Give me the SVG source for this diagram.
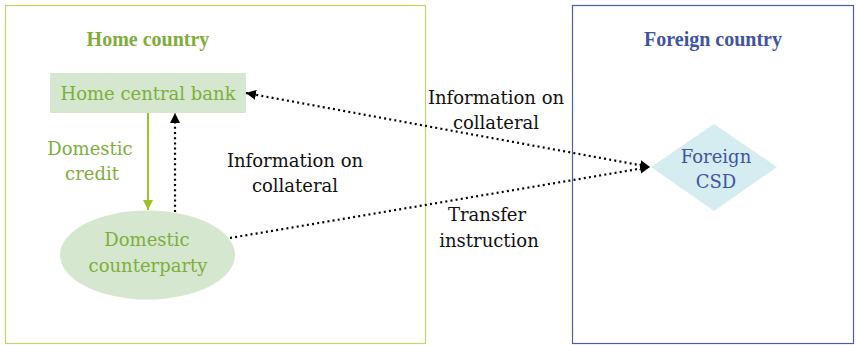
<svg xmlns="http://www.w3.org/2000/svg" width="856" height="345" viewBox="0 0 856 345">
<defs>
<style>
text{font-family:'DejaVu Serif',serif;font-size:18px;text-anchor:middle}
.g{fill:#7fad3c}
.b{fill:#3f55a2}
.k{fill:#111}
.title{font-family:'Liberation Serif',serif;font-weight:bold;font-size:20px}
.dot{stroke:#000;stroke-width:2.2;stroke-dasharray:2 3.2;fill:none}
</style>
<marker id="ah" viewBox="0 0 10 10" refX="10" refY="5" markerWidth="10" markerHeight="10" markerUnits="userSpaceOnUse" orient="auto-start-reverse"><path d="M0,0 L10,5 L0,10 z" fill="#000"/></marker>
<marker id="ag" viewBox="0 0 10 10" refX="10" refY="5" markerWidth="10" markerHeight="10" markerUnits="userSpaceOnUse" orient="auto"><path d="M0,0 L10,5 L0,10 z" fill="#9cc321"/></marker>
</defs>
<g id="home-country">
<rect x="5.5" y="5.5" width="420" height="338" fill="#fff" stroke="#c2d66a" stroke-width="1.2"/>
<text class="g title" x="148" y="46">Home country</text>
</g>
<g id="foreign-country">
<rect x="572.5" y="5.5" width="281" height="338" fill="#fff" stroke="#4a61a8" stroke-width="1.2"/>
<text class="b title" x="713" y="46">Foreign country</text>
</g>
<g id="home-central-bank">
<rect x="50" y="73" width="196" height="40" fill="#d5e8cf"/>
<text class="g" x="148" y="100">Home central bank</text>
</g>
<g id="domestic-counterparty">
<ellipse cx="147.5" cy="255" rx="87.5" ry="44.5" fill="#d5e8cf"/>
<text class="g" x="147" y="246">Domestic</text>
<text class="g" x="148" y="272">counterparty</text>
</g>
<g id="foreign-csd">
<polygon points="651,167 714,124 777,167 714,211" fill="#d5ecf1"/>
<text class="b" x="716" y="163">Foreign</text>
<text class="b" x="716" y="188">CSD</text>
</g>
<g id="connectors">
<line x1="148" y1="113" x2="148" y2="210" stroke="#9cc321" stroke-width="2" marker-end="url(#ag)"/>
<line class="dot" x1="175" y1="212" x2="175" y2="113" marker-end="url(#ah)"/>
<line class="dot" x1="246" y1="93" x2="650" y2="167" marker-start="url(#ah)" marker-end="url(#ah)"/>
<line class="dot" x1="230" y1="238" x2="650" y2="167" marker-end="url(#ah)"/>
</g>
<g id="labels">
<text class="g" x="90" y="155">Domestic</text>
<text class="g" x="92" y="180">credit</text>
<text class="k" x="295" y="167">Information on</text>
<text class="k" x="295" y="192">collateral</text>
<text class="k" x="496" y="104">Information on</text>
<text class="k" x="496" y="129">collateral</text>
<text class="k" x="487" y="221">Transfer</text>
<text class="k" x="489" y="247">instruction</text>
</g>
</svg>
